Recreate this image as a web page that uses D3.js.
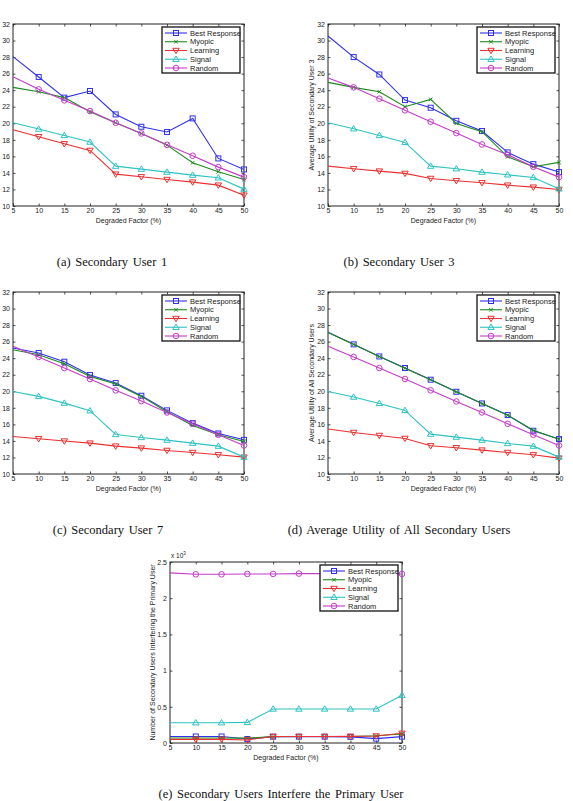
<!DOCTYPE html>
<html>
<head>
<meta charset="utf-8">
<script src="https://cdn.jsdelivr.net/npm/d3@7"></script>
<style>
  html, body { margin: 0; padding: 0; background: #fff; }
  svg text { font-family: "Liberation Sans", Arial, Helvetica, sans-serif; fill: #222; }
  svg text.caption { font-family: "Liberation Serif", "Times New Roman", serif; fill: #111; }
</style>
</head>
<body>
<svg id="fig" width="573" height="801"></svg>
<script>
// ---- data ----
var degraded = [5, 10, 15, 20, 25, 30, 35, 40, 45, 50];   // Degraded Factor (%)
var seriesNames = ["Best Response", "Myopic", "Learning", "Signal", "Random"];
var utilTicks = [10, 12, 14, 16, 18, 20, 22, 24, 26, 28, 30, 32];
var interfTicks = [0, 0.5, 1, 1.5, 2, 2.5];   // x 10^3

// (a) Secondary User 1 : rows in seriesNames order
var su1 = [
  [28.05, 25.6, 23.1, 23.9, 21.07, 19.58, 18.94, 20.59, 15.75, 14.42],
  [24.34, 23.81, 23.1, 21.4, 20.06, 18.77, 17.36, 15.23, 14.14, 13.2],
  [19.22, 18.37, 17.52, 16.72, 13.85, 13.53, 13.2, 12.89, 12.52, 11.31],
  [20.06, 19.3, 18.53, 17.73, 14.82, 14.46, 14.1, 13.73, 13.41, 12.04],
  [25.63, 24.1, 22.77, 21.48, 20.06, 18.77, 17.4, 16.07, 14.7, 13.49]
];
// (b) Secondary User 3
var su3 = [
  [30.55, 28.0, 25.9, 22.8, 21.88, 20.3, 19.06, 16.48, 15.06, 14.1],
  [24.94, 24.34, 23.81, 22.0, 22.89, 19.98, 18.98, 15.95, 14.74, 15.27],
  [14.82, 14.5, 14.22, 13.94, 13.33, 13.05, 12.81, 12.52, 12.28, 12.0],
  [20.06, 19.34, 18.53, 17.69, 14.82, 14.5, 14.1, 13.77, 13.45, 12.08],
  [25.47, 24.34, 22.97, 21.56, 20.19, 18.81, 17.44, 16.19, 14.74, 13.49]
];
// (c) Secondary User 7
var su7 = [
  [25.23, 24.62, 23.57, 21.96, 20.99, 19.46, 17.69, 16.15, 14.9, 14.13],
  [25.02, 24.42, 23.33, 21.8, 20.87, 19.38, 17.52, 15.87, 14.74, 13.93],
  [14.54, 14.26, 13.98, 13.73, 13.37, 13.13, 12.85, 12.6, 12.32, 12.04],
  [19.98, 19.38, 18.57, 17.65, 14.78, 14.42, 14.1, 13.73, 13.37, 12.04],
  [25.44, 24.15, 22.81, 21.48, 20.11, 18.81, 17.44, 16.07, 14.74, 13.45]
];
// (d) Average Utility of All Secondary Users
var suAll = [
  [27.12, 25.67, 24.21, 22.81, 21.4, 19.94, 18.53, 17.12, 15.23, 14.22],
  [27.1, 25.65, 24.2, 22.79, 21.39, 19.93, 18.51, 17.1, 15.28, 14.2],
  [15.43, 15.02, 14.66, 14.3, 13.41, 13.17, 12.89, 12.6, 12.32, 11.92],
  [19.98, 19.3, 18.53, 17.69, 14.82, 14.46, 14.1, 13.69, 13.37, 12.04],
  [25.44, 24.15, 22.81, 21.48, 20.11, 18.77, 17.44, 16.07, 14.74, 13.45]
];
// (e) Secondary users interfering the primary user (x 10^3)
var interf = [
  [0.09, 0.09, 0.09, 0.055, 0.088, 0.088, 0.088, 0.085, 0.06, 0.088],
  [0.07, 0.07, 0.07, 0.068, 0.088, 0.09, 0.09, 0.09, 0.1, 0.124],
  [0.05, 0.05, 0.05, 0.042, 0.09, 0.09, 0.09, 0.092, 0.097, 0.134],
  [0.28, 0.28, 0.28, 0.285, 0.47, 0.47, 0.47, 0.47, 0.47, 0.66],
  [2.35, 2.33, 2.33, 2.335, 2.335, 2.34, 2.34, 2.34, 2.34, 2.335]
];

// ---- styles ----
var colors = ["#3030ea", "#1e8a1e", "#ea3030", "#2ec2c2", "#c43cc8"];
var markers = ["square", "cross", "down", "up", "circle"];

var svg = d3.select("#fig");

function drawMarker(g, type, cx, cy, color) {
  if (type === "square") {
    g.append("rect").attr("x", cx - 2.5).attr("y", cy - 2.5).attr("width", 5).attr("height", 5)
      .attr("fill", "none").attr("stroke", color).attr("stroke-width", 1);
  } else if (type === "circle") {
    g.append("circle").attr("cx", cx).attr("cy", cy).attr("r", 2.8)
      .attr("fill", "none").attr("stroke", color).attr("stroke-width", 1);
  } else if (type === "cross") {
    g.append("path").attr("d", "M" + (cx - 1.8) + "," + (cy - 1.8) + "L" + (cx + 1.8) + "," + (cy + 1.8) +
      "M" + (cx - 1.8) + "," + (cy + 1.8) + "L" + (cx + 1.8) + "," + (cy - 1.8))
      .attr("stroke", color).attr("stroke-width", 1);
  } else if (type === "down") {
    g.append("path").attr("d", "M" + (cx - 3.2) + "," + (cy - 2.2) + "L" + (cx + 3.2) + "," + (cy - 2.2) + "L" + cx + "," + (cy + 3.2) + "Z")
      .attr("fill", "none").attr("stroke", color).attr("stroke-width", 1);
  } else if (type === "up") {
    g.append("path").attr("d", "M" + (cx - 3.2) + "," + (cy + 2.2) + "L" + (cx + 3.2) + "," + (cy + 2.2) + "L" + cx + "," + (cy - 3.2) + "Z")
      .attr("fill", "none").attr("stroke", color).attr("stroke-width", 1);
  }
}

function drawPanel(p) {
  var w = p.right - p.left, h = p.bottom - p.top;
  var g = svg.append("g").attr("transform", "translate(" + p.left + "," + p.top + ")");

  var x = d3.scaleLinear().domain([5, 50]).range([0, w]);
  var y = d3.scaleLinear().domain([p.ticks[0], p.ticks[p.ticks.length - 1]]).range([h, 0]);

  // axes, MATLAB style: ticks pointing inward on all four sides
  var bottomAx = g.append("g").attr("transform", "translate(0," + h + ")")
    .call(d3.axisBottom(x).tickValues(degraded).tickSizeInner(-2.5).tickSizeOuter(0).tickPadding(3));
  g.append("g")
    .call(d3.axisLeft(y).tickValues(p.ticks).tickFormat(p.fmt).tickSizeInner(-2.5).tickSizeOuter(0).tickPadding(3));
  g.append("g")
    .call(d3.axisTop(x).tickValues(degraded).tickFormat("").tickSizeInner(-2.5).tickSizeOuter(0));
  g.append("g").attr("transform", "translate(" + w + ",0)")
    .call(d3.axisRight(y).tickValues(p.ticks).tickFormat("").tickSizeInner(-2.5).tickSizeOuter(0));
  g.selectAll(".domain").remove();
  g.selectAll(".tick line").attr("stroke", "#222").attr("stroke-width", 0.8);
  g.selectAll(".tick text").attr("font-size", 7).attr("fill", "#333");
  bottomAx.selectAll(".tick text").attr("dy", "0.6em");
  g.append("rect").attr("width", w).attr("height", h)
    .attr("fill", "none").attr("stroke", "#222").attr("stroke-width", 1);

  // series
  var line = d3.line().x(function (d, i) { return x(degraded[i]); }).y(function (d) { return y(d); });
  p.data.forEach(function (vals, s) {
    g.append("path").datum(vals).attr("d", line)
      .attr("fill", "none").attr("stroke", colors[s]).attr("stroke-width", 1.1);
    var mg = g.append("g");
    vals.forEach(function (v, i) {
      if (i === 0) return;   // no marker drawn at the left edge in the original
      drawMarker(mg, markers[s], x(degraded[i]), y(v), colors[s]);
    });
  });

  // legend
  var lw = 78, lh = 46;
  var lg = g.append("g").attr("transform", "translate(" + (w - 4 - lw) + ",3)");
  lg.append("rect").attr("width", lw).attr("height", lh)
    .attr("fill", "#fff").attr("stroke", "#111").attr("stroke-width", 1.3);
  seriesNames.forEach(function (name, s) {
    var ry = 6 + s * 8.75;
    lg.append("line").attr("x1", 3).attr("x2", 25).attr("y1", ry).attr("y2", ry)
      .attr("stroke", colors[s]).attr("stroke-width", 1.1);
    drawMarker(lg, markers[s], 14, ry, colors[s]);
    lg.append("text").attr("x", 28).attr("y", ry).attr("dy", "0.35em")
      .attr("font-size", 7.5).attr("fill", "#222").text(name);
  });

  // labels
  g.append("text").attr("x", w / 2).attr("y", h + 17).attr("text-anchor", "middle")
    .attr("font-size", 7).text("Degraded Factor (%)");
  if (p.ylabel) {
    g.append("text").attr("transform", "translate(" + (-p.ylabelOff) + "," + (h / 2) + ") rotate(-90)")
      .attr("text-anchor", "middle").attr("font-size", 7).text(p.ylabel);
  }
  if (p.exponent) {
    var ex = g.append("text").attr("x", 1).attr("y", -4).attr("font-size", 6.5);
    ex.append("tspan").text("x 10");
    ex.append("tspan").attr("dy", -3).attr("font-size", 4.5).text("3");
  }
  svg.append("text").attr("class", "caption").attr("x", p.capX).attr("y", p.capY)
    .attr("text-anchor", "middle").attr("font-size", 12.5).attr("word-spacing", 1.5)
    .text(p.caption);
}

var fmtUtil = d3.format("d");
var fmtInterf = function (d) { return d === 0 ? "0" : String(d); };

drawPanel({ left: 13, right: 244, top: 24, bottom: 206, data: su1, ticks: utilTicks, fmt: fmtUtil,
  ylabel: null, caption: "(a) Secondary User 1", capX: 112, capY: 266 });
drawPanel({ left: 328, right: 559, top: 24, bottom: 206, data: su3, ticks: utilTicks, fmt: fmtUtil,
  ylabel: "Average Utility of Secondary User 3", ylabelOff: 14.5, caption: "(b) Secondary User 3", capX: 399, capY: 266 });
drawPanel({ left: 13, right: 244, top: 292, bottom: 474, data: su7, ticks: utilTicks, fmt: fmtUtil,
  ylabel: null, caption: "(c) Secondary User 7", capX: 108, capY: 534 });
drawPanel({ left: 328, right: 559, top: 292, bottom: 474, data: suAll, ticks: utilTicks, fmt: fmtUtil,
  ylabel: "Average Utility of All Secondary Users", ylabelOff: 14.5, caption: "(d) Average Utility of All Secondary Users", capX: 399, capY: 534 });
drawPanel({ left: 170, right: 402, top: 562, bottom: 743, data: interf, ticks: interfTicks, fmt: fmtInterf,
  ylabel: "Number of Secondary Users Interfering the Primary User", ylabelOff: 15.5, exponent: true,
  caption: "(e) Secondary Users Interfere the Primary User", capX: 281, capY: 797.5 });
</script>
</body>
</html>
